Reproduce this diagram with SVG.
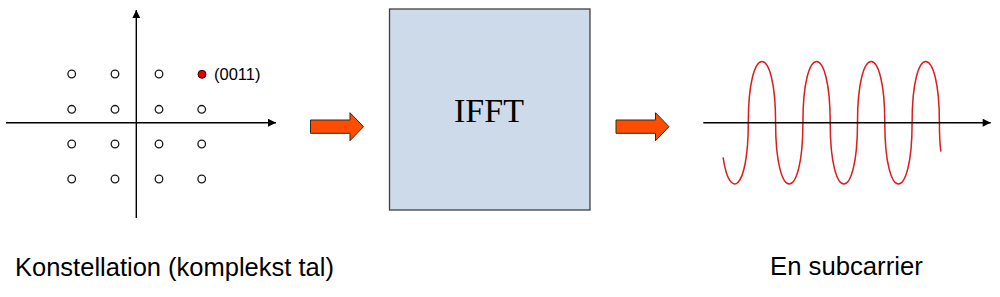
<svg xmlns="http://www.w3.org/2000/svg" width="1000" height="297" viewBox="0 0 1000 297">
  <defs>
    <marker id="ah" viewBox="0 0 10 10" refX="10" refY="5" markerWidth="10" markerHeight="8" markerUnits="userSpaceOnUse" orient="auto">
      <path d="M0,0 L10,5 L0,10 z" fill="#000"/>
    </marker>
    <style>
      .axis { stroke: #000; stroke-width: 1.4; fill: none; }
      .pt { fill: #fff; stroke: #1a1a1a; stroke-width: 1.3; }
      .lbl { font-family: "Liberation Sans", Arial, sans-serif; fill: #000; }
      .flow { fill: #ff4d00; stroke: #2a2a2a; stroke-width: 1; }
    </style>
  </defs>
  <rect width="1000" height="297" fill="#fff"/>

  <g id="constellation">
    <line class="axis" x1="6" y1="122.7" x2="276" y2="122.7" marker-end="url(#ah)"/>
    <line class="axis" x1="136.3" y1="218" x2="136.3" y2="10" marker-end="url(#ah)"/>
    <circle class="pt" cx="71.7" cy="74" r="3.8"/>
    <circle class="pt" cx="115" cy="74" r="3.8"/>
    <circle class="pt" cx="159" cy="74" r="3.8"/>
    <circle cx="202" cy="74.3" r="4" fill="#e00000" stroke="#3a0000" stroke-width="1"/>
    <circle class="pt" cx="71.7" cy="109.3" r="3.8"/>
    <circle class="pt" cx="115" cy="109.3" r="3.8"/>
    <circle class="pt" cx="159" cy="109.3" r="3.8"/>
    <circle class="pt" cx="201.7" cy="109.3" r="3.8"/>
    <circle class="pt" cx="71.7" cy="144" r="3.8"/>
    <circle class="pt" cx="115" cy="144" r="3.8"/>
    <circle class="pt" cx="159" cy="144" r="3.8"/>
    <circle class="pt" cx="201.7" cy="144" r="3.8"/>
    <circle class="pt" cx="71.7" cy="179" r="3.8"/>
    <circle class="pt" cx="115" cy="179" r="3.8"/>
    <circle class="pt" cx="159" cy="179" r="3.8"/>
    <circle class="pt" cx="201.7" cy="179" r="3.8"/>
    <text class="lbl" x="214" y="80" font-size="16.5">(0011)</text>
    <text class="lbl" x="15" y="276" font-size="25.5">Konstellation (komplekst tal)</text>
  </g>

  <g id="ifft">
    <rect x="389.5" y="9" width="200.5" height="201" fill="#ccdaea" stroke="#404040" stroke-width="1.3"/>
    <text x="489" y="121.7" font-family="'Liberation Serif', 'Times New Roman', serif" font-size="34" text-anchor="middle" fill="#000">IFFT</text>
  </g>

  <g id="subcarrier">
    <path d="M723.1,157.3 C729.5,202 748.3,190.5 748.3,122.7 C748.3,41 775.6,41 775.6,122.7 C775.6,204.4 802.9,204.4 802.9,122.7 C802.9,41 830.2,41 830.2,122.7 C830.2,204.4 857.5,204.4 857.5,122.7 C857.5,41 884.8,41 884.8,122.7 C884.8,204.4 912.1,204.4 912.1,122.7 C912.1,41 939.4,41 939.4,122.7 C939.4,134.1 939.9,143.9 940.9,151.7" fill="none" stroke="#d81e1e" stroke-width="1.5"/>
    <line class="axis" x1="703.3" y1="122.7" x2="990.7" y2="122.7" marker-end="url(#ah)"/>
    <text class="lbl" x="770" y="275" font-size="25.7">En subcarrier</text>
  </g>

  <g id="connectors">
    <path class="flow" d="M310.5,120 L350,120 L350,112.7 L363.5,126.7 L350,140.7 L350,133.3 L310.5,133.3 Z"/>
    <path class="flow" d="M616,120 L655.5,120 L655.5,112.7 L669,126.7 L655.5,140.7 L655.5,133.3 L616,133.3 Z"/>
  </g>
</svg>
